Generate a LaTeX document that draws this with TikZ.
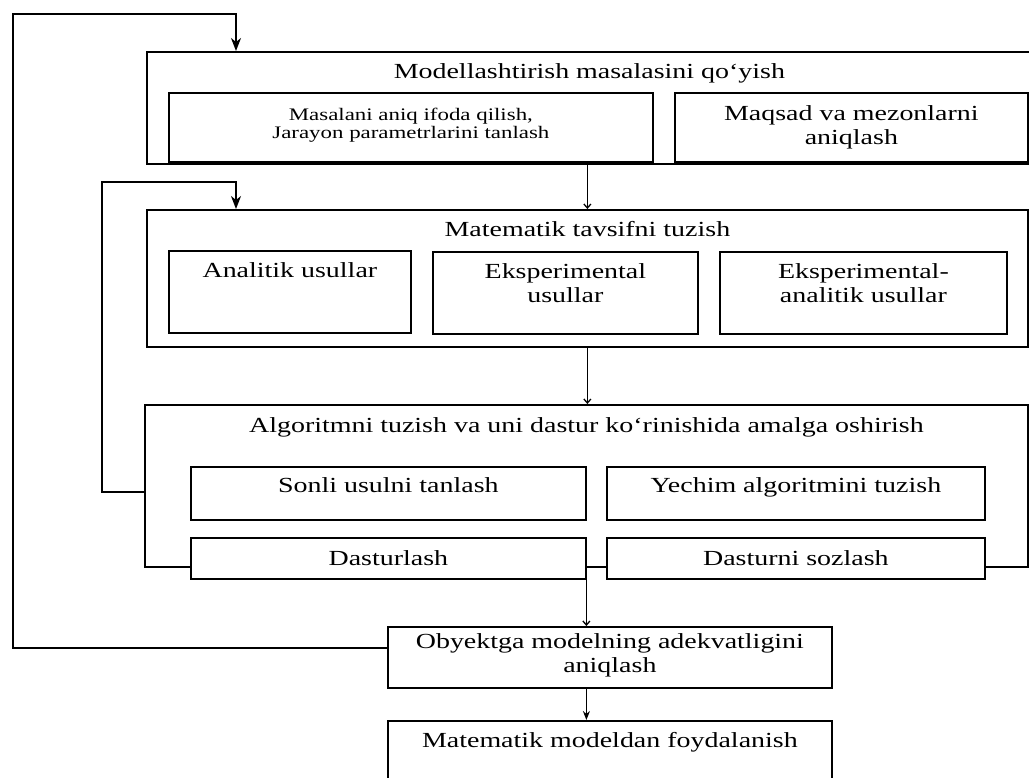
\documentclass[tikz,border=0pt]{standalone}
\usepackage{fontspec}
\setmainfont{Liberation Serif}[FakeStretch=1.3]
\usepackage{tikz}
\usetikzlibrary{calc,arrows.meta}

\newcommand{\bigtxt}{\fontsize{21.5}{24}\selectfont}
\newcommand{\smalltxt}{\fontsize{17.6}{18}\selectfont}

\begin{document}
\begin{tikzpicture}
[	x=1pt, y=-1pt,
	box/.style = {draw, line width=1.8pt, anchor=north west, inner sep=0pt, font=\bigtxt},
	inbox/.style = {box, fill=white},
	flow/.style = {line width=1.3pt, -{Straight Barb[length=4pt,width=7pt]}},
	lastflow/.style = {line width=1.4pt, -{Stealth[length=9pt,width=7pt]}},
	backflow/.style = {line width=1.6pt, -{Stealth[length=13pt,width=10pt,inset=4pt]}}
]
\useasboundingbox (0,0) rectangle (1029,778);

% 1. block
\node(task)[box, minimum width=885pt, text height=27pt, text depth=85pt] at (146,51) {Modellashtirish masalasini qo‘yish};
\node(taskL)[inbox, font=\smalltxt, minimum width=484pt, text height=28pt, text depth=41pt] at (168,92)
	{\begin{tabular}[t]{@{}c@{}}Masalani aniq ifoda qilish,\\Jarayon parametrlarini tanlash\end{tabular}};
\node(taskR)[inbox, minimum width=353pt, text height=28pt, text depth=41pt] at (674,92)
	{\begin{tabular}[t]{@{}c@{}}Maqsad va mezonlarni\\aniqlash\end{tabular}};

% 2. block
\node(math)[box, minimum width=881pt, text height=27pt, text depth=110pt] at (146,209) {Matematik tavsifni tuzish};
\node(mathL)[inbox, minimum width=242pt, text height=27pt, text depth=55pt] at (168,250) {Analitik usullar};
\node(mathM)[inbox, minimum width=265pt, text height=27pt, text depth=55pt] at (432,251)
	{\begin{tabular}[t]{@{}c@{}}Eksperimental\\usullar\end{tabular}};
\node(mathR)[inbox, minimum width=287pt, text height=27pt, text depth=55pt] at (719,251)
	{\begin{tabular}[t]{@{}c@{}}Eksperimental-\\analitik usullar\end{tabular}};

% 3. block
\node(algo)[box, minimum width=883pt, text height=28pt, text depth=134pt] at (144,404) {Algoritmni tuzish va uni dastur ko‘rinishida amalga oshirish};
\node(algoTL)[inbox, minimum width=395pt, text height=26pt, text depth=27pt] at (190,466) {Sonli usulni tanlash};
\node(algoTR)[inbox, minimum width=378pt, text height=26pt, text depth=27pt] at (606,466) {Yechim algoritmini tuzish};
\node(algoBL)[inbox, minimum width=395pt, text height=28pt, text depth=13pt] at (190,537) {Dasturlash};
\node(algoBR)[inbox, minimum width=378pt, text height=28pt, text depth=13pt] at (606,537) {Dasturni sozlash};

% check and use
\node(adeq)[box, minimum width=444pt, text height=22pt, text depth=39pt] at (387,626)
	{\begin{tabular}[t]{@{}c@{}}Obyektga modelning adekvatligini\\aniqlash\end{tabular}};
\node(use)[box, minimum width=444pt, text height=27pt, text depth=35pt] at (387,720) {Matematik modeldan foydalanish};

% arrows down the middle
\draw[flow](task.south -| math.north)--(math.north);
\draw[flow](math.south)--(math.south |- algo.north);
\draw[flow](algo.south)--(algo.south |- adeq.north);
\draw[lastflow](adeq.south -| algo.south)--(use.north -| algo.south);

% feedback lines
\coordinate(outerturn) at (13,14);
\coordinate(innerturn) at (102,182);
\draw[backflow]([yshift=9.5pt]adeq.west) -| (outerturn) -| ([xshift=90pt]task.north west);
\draw[backflow]([yshift=-6pt]algo.west) -| (innerturn) -| ([xshift=90pt]math.north west);

\end{tikzpicture}
\end{document}
